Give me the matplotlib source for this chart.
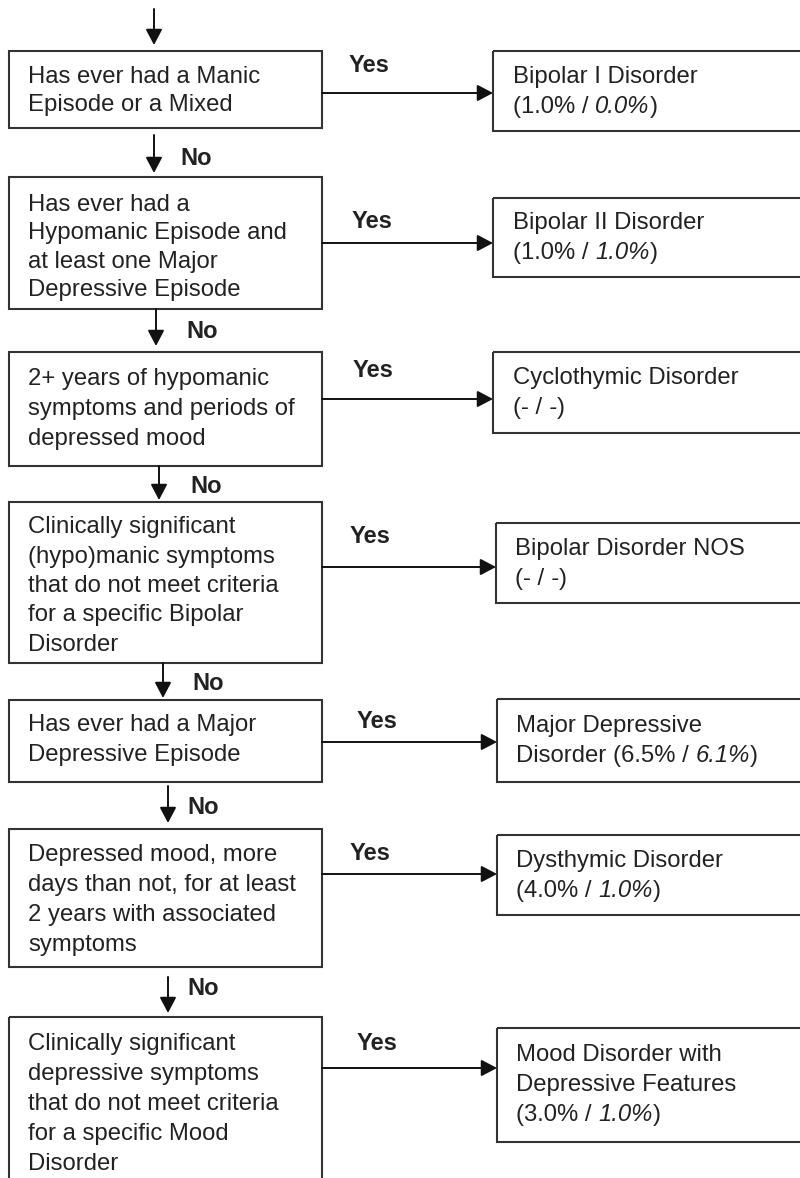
import matplotlib
matplotlib.use("Agg")
import matplotlib.pyplot as plt
from matplotlib.patches import Rectangle

# ---------------- data ----------------
questions = [
    ["Has ever had a Manic", "Episode or a Mixed"],
    ["Has ever had a", "Hypomanic Episode and", "at least one Major", "Depressive Episode"],
    ["2+ years of hypomanic", "symptoms and periods of", "depressed mood"],
    ["Clinically significant", "(hypo)manic symptoms", "that do not meet criteria",
     "for a specific Bipolar", "Disorder"],
    ["Has ever had a Major", "Depressive Episode"],
    ["Depressed mood, more", "days than not, for at least", "2 years with associated",
     "symptoms"],
    ["Clinically significant", "depressive symptoms", "that do not meet criteria",
     "for a specific Mood", "Disorder"],
]
outcomes = [
    ["Bipolar I Disorder"],
    ["Bipolar II Disorder"],
    ["Cyclothymic Disorder"],
    ["Bipolar Disorder NOS"],
    ["Major Depressive", "Disorder"],
    ["Dysthymic Disorder"],
    ["Mood Disorder with", "Depressive Features"],
]
prevalence_a = ["1.0%", "1.0%", "-", "-", "6.5%", "4.0%", "3.0%"]
prevalence_b = ["0.0%", "1.0%", "-", "-", "6.1%", "1.0%", "1.0%"]
pct_inline = [False, False, False, False, True, False, False]
yes_label = "Yes"
no_label = "No"

# ---------------- layout (pixels) ----------------
W, H = 800, 1178
left_x0, left_x1 = 9, 322
left_top = [51, 177, 352, 502, 700, 829, 1017]
left_bot = [128, 309, 466, 663, 782, 967, 1195]
left_base = [83, 211, 385, 533, 731, 861, 1050]
left_step = [28.5, 28.4, 30, 29.5, 30.5, 30, 30]
left_tx = 28

right_x0 = [493, 493, 493, 496, 497, 497, 497]
right_top = [51, 198, 352, 523, 699, 835, 1028]
right_bot = [131, 277, 433, 603, 782, 915, 1142]
right_base = [83, 229, 384, 555, 732, 867, 1061]
right_step = 29.8
right_tx = [513, 513, 513, 515, 516, 516, 516]

yes_y = [93, 243, 399, 567, 742, 874, 1068]
yes_lx = [349, 352, 353, 350, 357, 350, 357]
yes_ly = [72, 228, 377, 543, 728, 860, 1050]

down_x = [154, 154, 156, 159, 163, 168, 168]
down_y0 = [9, 135, 309, 466, 663, 786, 977]
down_y1 = [45, 173, 346, 500, 698, 823, 1013]
no_lx = [180, 186, 190, 192, 187, 187]
no_ly = [165, 338, 493, 690, 814, 995]

FONT = "Liberation Sans"
FS = 17.2
FS_B = 17
TXT = "#222222"
EDGE = "#333333"
LW = 1.5

fig = plt.figure(figsize=(W / 100, H / 100), dpi=100)
ax = fig.add_axes([0, 0, 1, 1])
ax.set_xlim(0, W)
ax.set_ylim(H, 0)
ax.axis("off")
renderer = fig.canvas.get_renderer()


def arrow(x0, y0, x1, y1):
    ax.annotate("", xy=(x1, y1), xytext=(x0, y0),
                arrowprops=dict(arrowstyle="-|>,head_length=0.95,head_width=0.5",
                                mutation_scale=10, color="#111111", lw=1.4,
                                shrinkA=0, shrinkB=0))


def txt(x, y, s, **kw):
    return ax.text(x, y, s, family=FONT, fontsize=kw.pop("fs", FS), color=TXT,
                   va="baseline", ha="left", **kw)


def width(s, style="normal"):
    t = txt(0, -500, s + "x", style=style)
    w1 = t.get_window_extent(renderer=renderer).width
    t.remove()
    t = txt(0, -500, "x", style=style)
    w2 = t.get_window_extent(renderer=renderer).width
    t.remove()
    return w1 - w2


for i in range(len(questions)):
    # left (question) box
    ax.add_patch(Rectangle((left_x0, left_top[i]), left_x1 - left_x0,
                           left_bot[i] - left_top[i], fill=False,
                           edgecolor=EDGE, lw=LW))
    for j, line in enumerate(questions[i]):
        txt(left_tx, left_base[i] + j * left_step[i], line)
    # right (outcome) box
    ax.add_patch(Rectangle((right_x0[i], right_top[i]), 900 - right_x0[i],
                           right_bot[i] - right_top[i], fill=False,
                           edgecolor=EDGE, lw=LW))
    lines = outcomes[i]
    for j, line in enumerate(lines):
        txt(right_tx[i], right_base[i] + j * right_step, line)
    if pct_inline[i]:
        j = len(lines) - 1
        x = right_tx[i] + width(lines[-1] + " ")
    else:
        j = len(lines)
        x = right_tx[i]
    y = right_base[i] + j * right_step
    p1 = "(" + prevalence_a[i] + " / "
    txt(x, y, p1)
    x += width(p1)
    txt(x, y, prevalence_b[i], style="italic")
    x += width(prevalence_b[i], "italic")
    txt(x, y, ")")
    # yes arrow
    arrow(left_x1, yes_y[i], right_x0[i], yes_y[i])
    txt(yes_lx[i], yes_ly[i], yes_label, fontweight="bold", fs=FS_B)
    # down arrow
    arrow(down_x[i], down_y0[i], down_x[i], down_y1[i])
    if i > 0:
        txt(no_lx[i - 1], no_ly[i - 1], no_label, fontweight="bold", fs=FS_B)

fig.savefig("out.png", dpi=100, facecolor="white")
